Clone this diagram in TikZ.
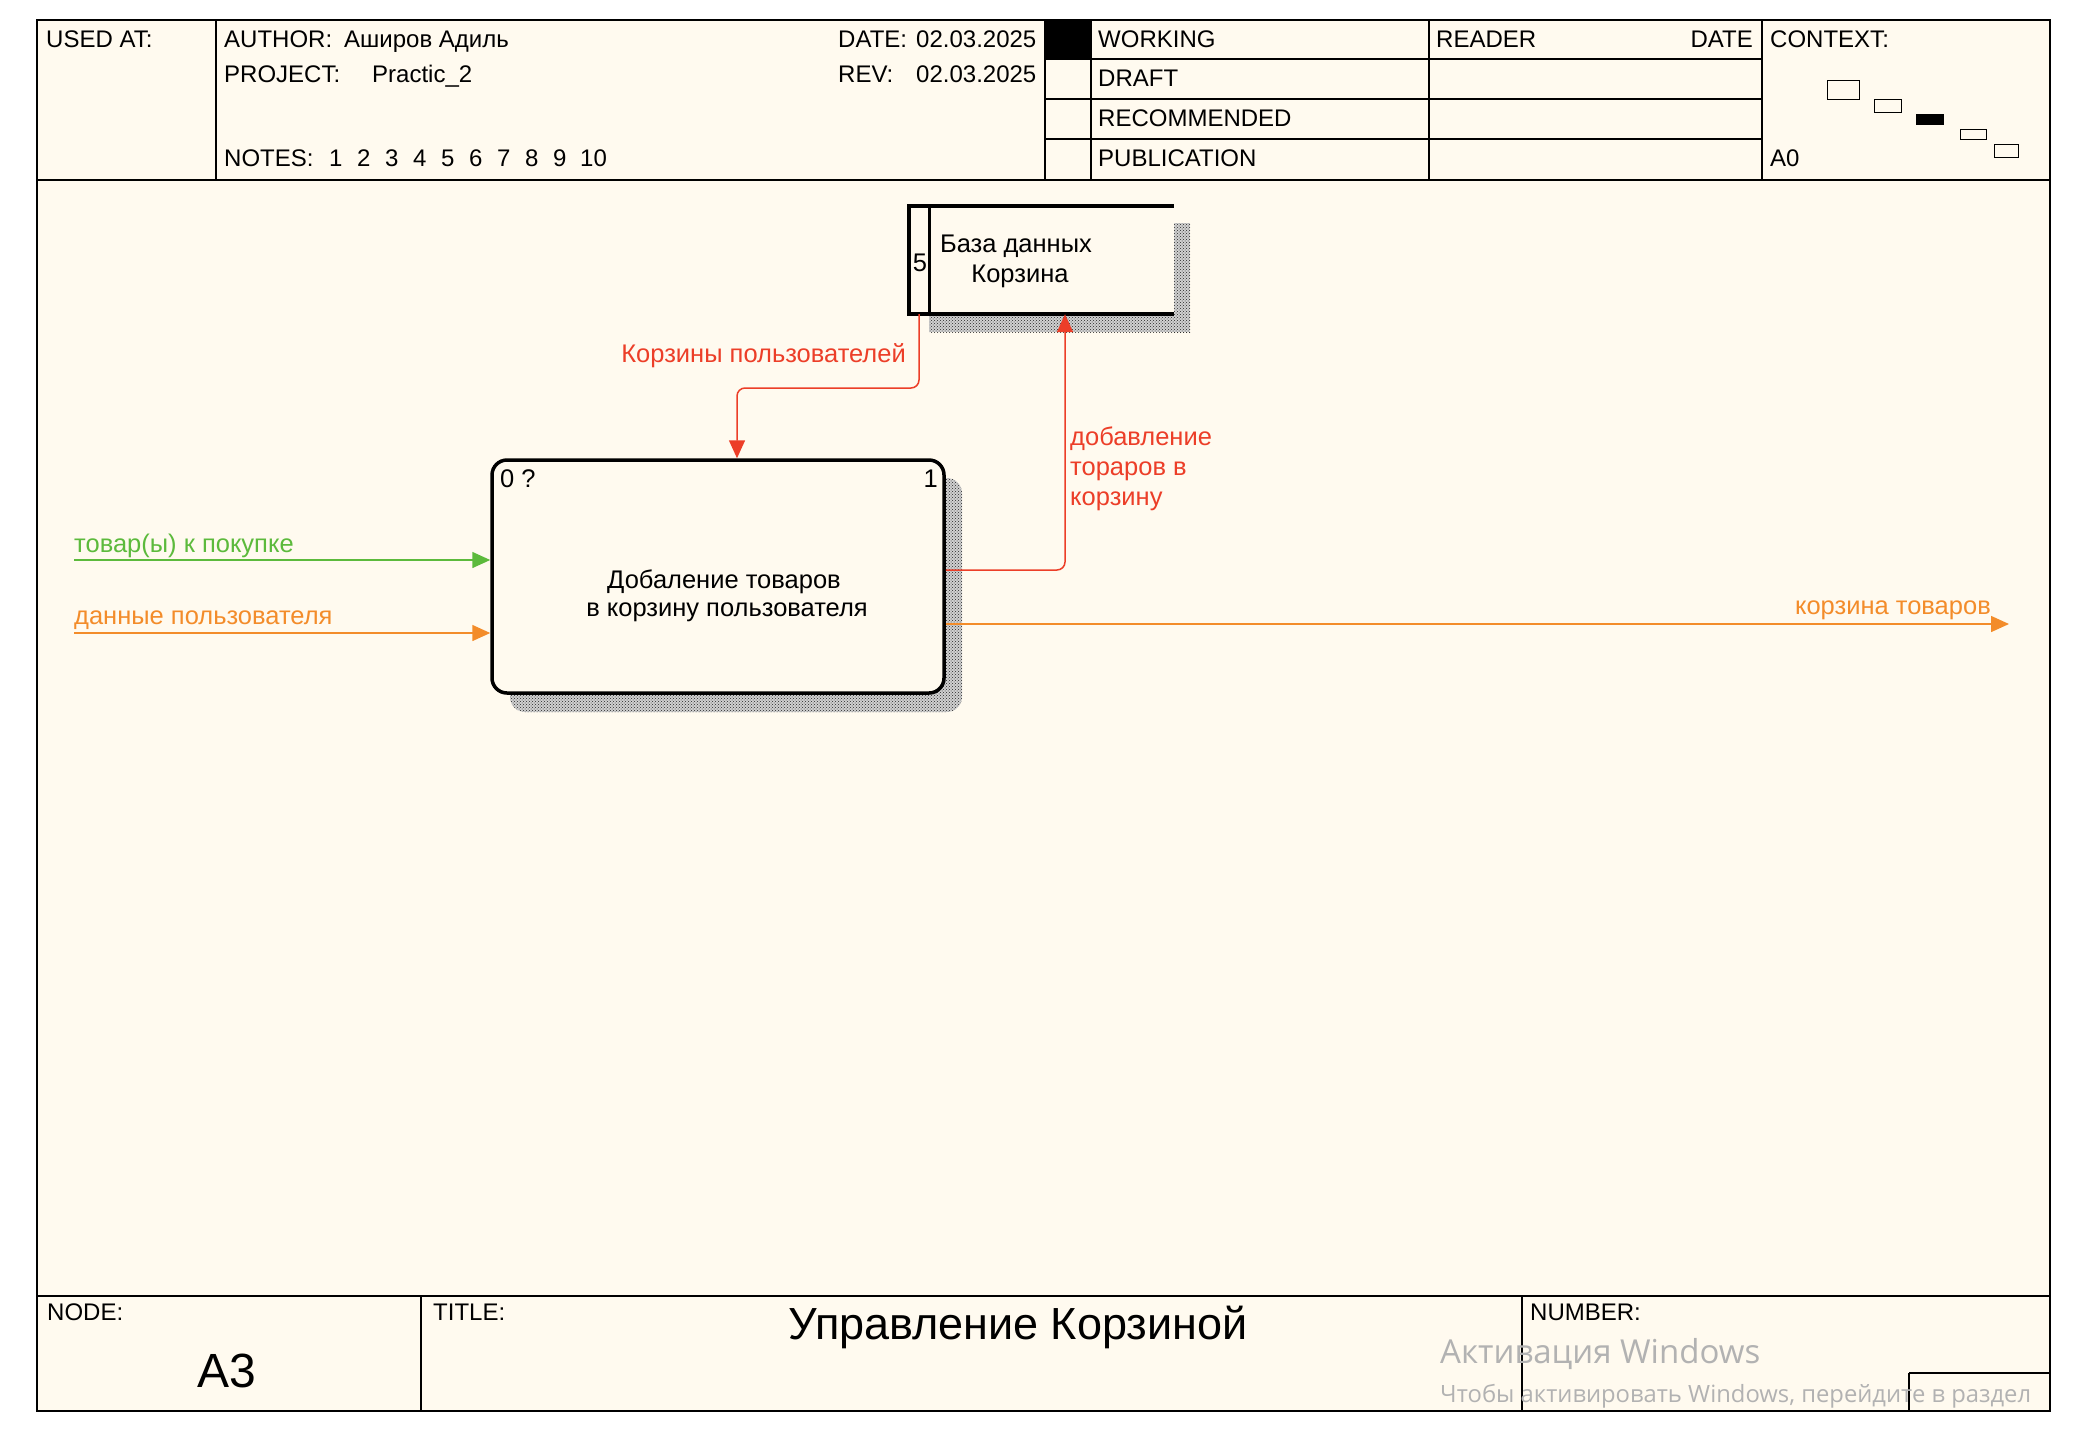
\documentclass[tikz,border=0pt]{standalone}
\usepackage{fontspec}
\setmainfont{Liberation Sans}
\newfontfamily\wmfont{Open Sans}
\usetikzlibrary{arrows.meta,patterns,calc}
\definecolor{bg}{RGB}{255,250,239}
\definecolor{idefred}{RGB}{236,62,40}
\definecolor{idefgreen}{RGB}{92,186,60}
\definecolor{ideforange}{RGB}{243,140,42}
\definecolor{wmgray}{RGB}{178,178,178}
\begin{document}
\begin{tikzpicture}[x=1pt,y=-1pt,
  txt/.style={inner sep=0pt, anchor=base west, font=\fontsize{24}{28}\selectfont},
  txtc/.style={txt, anchor=base},
  txte/.style={txt, anchor=base east},
  dtxt/.style={inner sep=0pt, anchor=base west, font=\fontsize{25.5}{30}\selectfont},
  dtxtc/.style={dtxt, anchor=base},
  dtxte/.style={dtxt, anchor=base east},
  frameline/.style={line width=2.5pt, black},
  thinline/.style={line width=1.6pt, black},
  shadowfill/.style={fill=black!18, postaction={pattern=crosshatch dots, pattern color=black!85}},
  conn/.style={line width=1.5pt, rounded corners=8pt, -{Triangle[length=18pt,width=16pt]}},
  ctxbox/.style={draw, line width=1.4pt, inner sep=0pt, anchor=north west}
]
\useasboundingbox (0,0) rectangle (2090,1438);
\fill[white] (0,0) rectangle (2090,1438);
\fill[bg] (37,20) rectangle (2050,1411);

% ---------- header ----------
\draw[thinline] (216,20) -- (216,180);
\draw[thinline] (1045,20) -- (1045,180);
\draw[thinline] (1091,20) -- (1091,180);
\draw[thinline] (1429,20) -- (1429,180);
\draw[thinline] (1762,20) -- (1762,180);
\draw[thinline] (1045,59) -- (1762,59);
\draw[thinline] (1045,99) -- (1762,99);
\draw[thinline] (1045,139) -- (1762,139);
\fill[black] (1045,20) rectangle (1091,59);

\node[txt] (usedat) at (46,47) {USED AT:};
\node[txt] (author) at (224,47) {AUTHOR:};
\node[txt] (authorv) at (344,47) {Аширов Адиль};
\node[txt] (project) at (224,82) {PROJECT:};
\node[txt] (projectv) at (372,82) {Practic\_2};
\node[txt] (notes) at (224,166) {NOTES:};
\foreach \n/\xx in {1/329,2/357,3/385,4/413,5/441,6/469,7/497,8/525,9/553,10/580}
  \node[txt] (note\n) at (\xx,166) {\n};
\node[txt] (date) at (838,47) {DATE:};
\node[txt] (datev) at (916,47) {02.03.2025};
\node[txt] (rev) at (838,82) {REV:};
\node[txt] (revv) at (916,82) {02.03.2025};
\node[txt] (working) at (1098,47) {WORKING};
\node[txt] (draft) at (1098,86) {DRAFT};
\node[txt] (recom) at (1098,126) {RECOMMENDED};
\node[txt] (publ) at (1098,166) {PUBLICATION};
\node[txt] (reader) at (1436,47) {READER};
\node[txte] (rdate) at (1753,47) {DATE};
\node[txt] (context) at (1770,47) {CONTEXT:};
\node[txt] (azero) at (1770,166) {A0};
\node[ctxbox, minimum width=32pt, minimum height=19pt] (c1) at (1827,80) {};
\node[ctxbox, minimum width=27pt, minimum height=13pt] (c2) at (1874,99) {};
\node[ctxbox, fill=black, minimum width=27pt, minimum height=10pt] (c3) at (1916,114) {};
\node[ctxbox, minimum width=26pt, minimum height=10pt] (c4) at (1960,129) {};
\node[ctxbox, minimum width=24pt, minimum height=13pt] (c5) at (1994,144) {};

% ---------- footer ----------
\draw[thinline] (421,1296) -- (421,1411);
\draw[thinline] (1522,1296) -- (1522,1411);
\draw[thinline] (1909,1373) -- (2050,1373);
\draw[thinline] (1909,1373) -- (1909,1411);
\node[txt] (nodelbl) at (47,1320) {NODE:};
\node[txt] (titlelbl) at (433,1320) {TITLE:};
\node[txt] (numberlbl) at (1530,1320) {NUMBER:};
\node[txtc, font=\fontsize{48}{52}\selectfont] (nodeval) at (227,1387) {A3};
\node[txtc, font=\fontsize{45}{50}\selectfont] (titleval) at (1018,1339) {Управление Корзиной};

% ---------- frame ----------
\draw[frameline] (37,20) rectangle (2050,1411);
\draw[frameline] (37,180) -- (2050,180);
\draw[frameline] (37,1296) -- (2050,1296);

% ---------- data store ----------
\fill[shadowfill] (1174,223) rectangle (1190,332);
\fill[shadowfill] (929,316) rectangle (1190,332);
\node[fill=bg, inner sep=0pt, minimum width=265pt, minimum height=108pt] (store) at (1041.5,260) {};
\draw[line width=3.5pt] (909,206) -- (1174,206);
\draw[line width=3.5pt] (909,314) -- (1174,314);
\draw[line width=3.5pt] (909,204.25) -- (909,315.75);
\draw[line width=3pt] (929,206) -- (929,314);
\node[dtxtc] (storenum) at (920,271) {5};
\node[dtxtc] (storet1) at (1016,252) {База данных};
\node[dtxtc] (storet2) at (1020,282) {Корзина};

% ---------- activity ----------
\fill[shadowfill, rounded corners=15pt] (510,478) rectangle (962,712);
\node[draw, line width=3.5pt, fill=bg, rounded corners=15pt, inner sep=0pt,
      minimum width=452pt, minimum height=233pt] (act) at (718,576.5) {};
\node[dtxtc] (actt1) at (724,588) {Добаление товаров};
\node[dtxtc] (actt2) at (727,616) {в корзину пользователя};
\node[dtxt] (actnum0) at (500,487) {0 ?};
\node[dtxte] (actnum1) at (938,487) {1};

% ---------- connectors ----------
\coordinate (k1) at (919,388);
\coordinate (k2) at (737,388);
\draw[conn, idefred] (store.south -| k1) -- (k1) -- (k2) -- (act.north -| k2);
\coordinate (k3) at (1065,570);
\draw[conn, idefred] (act.east |- k3) -- (k3) -- (store.south -| k3);
\coordinate (ing) at (74,560);
\draw[conn, idefgreen] (ing) -- (act.west |- ing);
\coordinate (ino) at (74,633);
\draw[conn, ideforange] (ino) -- (act.west |- ino);
\coordinate (oute) at (2009,624);
\draw[conn, ideforange] (act.east |- oute) -- (oute);

\node[dtxte, text=idefred] (lblk) at (906,362) {Корзины пользователей};
\node[dtxt, text=idefred] (lbla1) at (1070,445) {добавление};
\node[dtxt, text=idefred] (lbla2) at (1070,475) {тораров в};
\node[dtxt, text=idefred] (lbla3) at (1070,505) {корзину};
\node[dtxt, text=idefgreen] (lblg) at (74,552) {товар(ы) к покупке};
\node[dtxt, text=ideforange] (lblo) at (74,624) {данные пользователя};
\node[dtxte, text=ideforange] (lblout) at (1991,614) {корзина товаров};

% ---------- watermark ----------
\node[inner sep=0pt, anchor=base west, text=wmgray, font=\wmfont\fontsize{33}{36}\selectfont] (wm1) at (1440,1363) {Активация Windows};
\node[inner sep=0pt, anchor=base west, text=wmgray, font=\wmfont\fontsize{23.8}{26}\selectfont] (wm2) at (1440,1402) {Чтобы активировать Windows, перейдите в раздел};
\end{tikzpicture}
\end{document}
